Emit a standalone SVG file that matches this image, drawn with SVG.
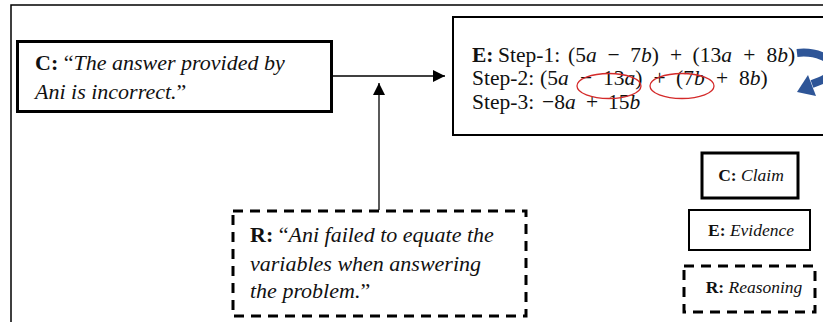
<svg xmlns="http://www.w3.org/2000/svg" width="823" height="322" viewBox="0 0 823 322">
<style>
text{font-family:"Liberation Serif","Times New Roman",serif;fill:#111}
.b{font-weight:bold;font-style:normal}
.i{font-style:italic}
.box{fill:#fff;stroke:#000}
.dash{fill:#fff;stroke:#000;stroke-width:3;stroke-dasharray:10 7}
.conn{stroke:#000;stroke-width:1.3;fill:none}
.ell{fill:none;stroke:#d42a2a;stroke-width:1.3}
.m{font-size:21.5px}
</style>
<defs>
<marker id="ah" markerWidth="12" markerHeight="12" refX="12" refY="6" orient="auto" markerUnits="userSpaceOnUse">
<path d="M0,0 L12,6 L0,12 Z" fill="#000"/>
</marker>
</defs>
<rect x="0" y="0" width="823" height="322" fill="#fff"/>
<path d="M11,322 V5 H823" fill="none" stroke="#000" stroke-width="1.5"/>

<g id="claim">
<rect class="box" x="17.5" y="41.5" width="314" height="70" stroke-width="3"/>
<text x="35" y="70" font-size="22"><tspan class="b">C:</tspan> “<tspan class="i">The answer provided by</tspan></text>
<text x="35" y="99" font-size="22"><tspan class="i">Ani is incorrect.</tspan>”</text>
</g>

<g id="evidence">
<rect class="box" x="453" y="17" width="380" height="118" stroke-width="2"/>
<g class="m">
<text y="62"><tspan x="472" class="b">E:</tspan><tspan x="498">Step-1:</tspan><tspan x="568">(5<tspan class="i">a</tspan></tspan><tspan x="607.6">−</tspan><tspan x="630.3">7<tspan class="i">b</tspan>)</tspan><tspan x="669.9">+</tspan><tspan x="692.6">(13<tspan class="i">a</tspan></tspan><tspan x="743.2">+</tspan><tspan x="766.5">8<tspan class="i">b</tspan>)</tspan></text>
<text y="85"><tspan x="472">Step-2:</tspan><tspan x="540">(5<tspan class="i">a</tspan></tspan><tspan x="580">−</tspan><tspan x="603">13<tspan class="i">a</tspan>)</tspan><tspan x="653.5">+</tspan><tspan x="676">(7<tspan class="i">b</tspan></tspan><tspan x="716">+</tspan><tspan x="739">8<tspan class="i">b</tspan>)</tspan></text>
<text y="109"><tspan x="472">Step-3:</tspan><tspan x="542">−8<tspan class="i">a</tspan></tspan><tspan x="586">+</tspan><tspan x="608">15<tspan class="i">b</tspan></tspan></text>
</g>
<ellipse class="ell" cx="609" cy="86" rx="32" ry="12.5"/>
<ellipse class="ell" cx="682" cy="86" rx="32" ry="12.5"/>
<path d="M797,53 C815,51 833,58 833,68 C833,76 823,80 812,84" fill="none" stroke="#2e5597" stroke-width="8"/>
<polygon points="797,92 808,75 816,96" fill="#2e5597"/>
</g>

<g id="reasoning">
<rect class="dash" x="233" y="211" width="293" height="105"/>
<text x="250" y="242" font-size="22"><tspan class="b">R:</tspan> “<tspan class="i">Ani failed to equate the</tspan></text>
<text x="250" y="271" font-size="22"><tspan class="i">variables when answering</tspan></text>
<text x="250" y="298" font-size="22"><tspan class="i">the problem.</tspan>”</text>
</g>

<g id="legend-claim">
<rect class="box" x="702" y="153" width="96" height="45" stroke-width="3"/>
<text x="751" y="181" font-size="17.5" text-anchor="middle"><tspan class="b">C:</tspan> <tspan class="i">Claim</tspan></text>
</g>
<g id="legend-evidence">
<rect class="box" x="689" y="210" width="121" height="40" stroke-width="2"/>
<text x="751" y="236" font-size="17.5" text-anchor="middle"><tspan class="b">E:</tspan> <tspan class="i">Evidence</tspan></text>
</g>
<g id="legend-reasoning">
<rect class="dash" x="684" y="266" width="131" height="46"/>
<text x="754" y="293" font-size="17.5" text-anchor="middle"><tspan class="b">R:</tspan> <tspan class="i">Reasoning</tspan></text>
</g>

<g id="connectors">
<path class="conn" d="M333,76 H445" marker-end="url(#ah)"/>
<path class="conn" d="M379,210 V83" marker-end="url(#ah)"/>
</g>
</svg>
